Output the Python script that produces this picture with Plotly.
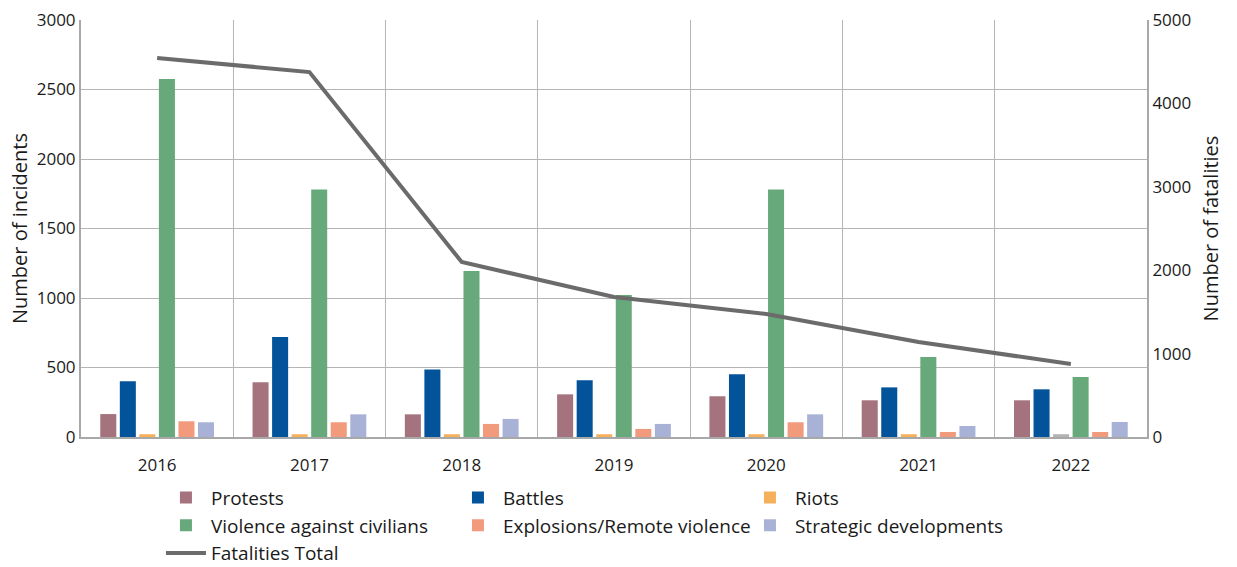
import plotly.graph_objects as go

years = ["2016", "2017", "2018", "2019", "2020", "2021", "2022"]
protests = [165, 393, 163, 307, 293, 264, 264]
battles = [401, 719, 486, 408, 451, 357, 343]
riots = [20, 20, 20, 20, 20, 20, 20]
violence_civilians = [2575, 1780, 1194, 1022, 1780, 576, 431]
explosions = [113, 106, 94, 58, 106, 36, 36]
strategic = [106, 163, 130, 94, 163, 79, 108]
fatalities = [4544, 4376, 2098, 1679, 1475, 1139, 875]

riot_colors = ["#f6b05c"] * 6 + ["#b3b3b3"]

font_family = "Open Sans, Noto Sans, sans-serif"

fig = go.Figure()
series = [
    ("Protests", protests, "#a5737e"),
    ("Battles", battles, "#03539a"),
    ("Riots", riots, riot_colors),
    ("Violence against civilians", violence_civilians, "#67a97a"),
    ("Explosions/Remote violence", explosions, "#f29a7c"),
    ("Strategic developments", strategic, "#a8b2d6"),
]
for name, vals, col in series:
    fig.add_trace(go.Bar(x=years, y=vals, name=name, marker=dict(color=col, line=dict(width=0))))

fig.add_trace(go.Scatter(x=years, y=fatalities, name="Fatalities Total", mode="lines",
                         line=dict(color="#6b6b6b", width=4), yaxis="y2"))

fig.update_layout(
    width=1237, height=567,
    margin=dict(l=81, r=90, t=20, b=130, autoexpand=False),
    plot_bgcolor="white", paper_bgcolor="white",
    font=dict(family=font_family, size=17, color="#1a1a1a"),
    barmode="group", bargap=0.23, bargroupgap=0.18,
    xaxis=dict(type="category", tickson="boundaries", showgrid=True, gridcolor="#b5b5b5", gridwidth=1,
               showline=True, linecolor="#a8a8a8", linewidth=2, ticks="", tickfont=dict(size=17),
               ticklabelstandoff=12),
    yaxis=dict(range=[0, 3000], dtick=500, showgrid=True, gridcolor="#b5b5b5", gridwidth=1,
               showline=True, linecolor="#a8a8a8", linewidth=2, zeroline=False,
               title=dict(text="Number of incidents", font=dict(size=20), standoff=4),
               tickfont=dict(size=17)),
    yaxis2=dict(range=[0, 5000], dtick=1000, overlaying="y", side="right", showgrid=False,
                showline=True, linecolor="#a8a8a8", linewidth=2, zeroline=False,
                title=dict(text="Number of fatalities", font=dict(size=20), standoff=14),
                tickfont=dict(size=17)),
    legend=dict(orientation="h", x=0.075, y=-0.1, yanchor="top", xanchor="left",
                entrywidth=237, entrywidthmode="pixels", font=dict(size=19),
                traceorder="normal", itemwidth=40, tracegroupgap=0),
    showlegend=True,
)
fig.write_html("out.html")
